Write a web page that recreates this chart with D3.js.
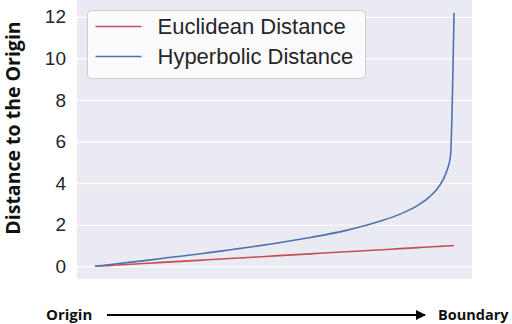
<!DOCTYPE html>
<html>
<head>
<meta charset="utf-8">
<script src="https://cdn.jsdelivr.net/npm/d3@7"></script>
<style>
  body { margin: 0; background: #fff; }
  svg { display: block; }
</style>
</head>
<body>
<svg width="512" height="324"></svg>
<script>
// position from origin (0) to boundary (1)
const radius = [0, 0.05, 0.1, 0.15, 0.2, 0.25, 0.3, 0.35, 0.4, 0.45, 0.5, 0.55, 0.6, 0.65,
    0.7, 0.75, 0.8, 0.85, 0.9, 0.93, 0.95, 0.97, 0.98, 0.99, 0.99999];
const euclidean = [0, 0.05, 0.1, 0.15, 0.2, 0.25, 0.3, 0.35, 0.4, 0.45, 0.5, 0.55, 0.6, 0.65,
    0.7, 0.75, 0.8, 0.85, 0.9, 0.93, 0.95, 0.97, 0.98, 0.99, 1.0];
const hyperbolic = [0, 0.10, 0.20, 0.30, 0.41, 0.51, 0.62, 0.73, 0.85, 0.97, 1.10, 1.24, 1.39, 1.55,
    1.73, 1.95, 2.20, 2.51, 2.94, 3.32, 3.66, 4.18, 4.60, 5.29, 12.2];
const yTicks = [0, 2, 4, 6, 8, 10, 12];
const seriesNames = ["Euclidean Distance", "Hyperbolic Distance"];
const seriesColors = ["#c44e52", "#4c72b0"];

const svg = d3.select("svg");
const margin = {top: 0, right: 40, bottom: 45, left: 77};
const width = 512, height = 324;
const innerWidth = width - margin.left - margin.right;
const innerHeight = height - margin.top - margin.bottom;

const xPad = 0.05;
const scaleX = d3.scaleLinear()
    .domain([-xPad, 1 + xPad])
    .range([0, innerWidth]);

const yMax = d3.max(hyperbolic);
const scaleY = d3.scaleLinear()
    .domain([-yMax * 0.05, yMax * 1.05])
    .range([innerHeight, 0]);

const g = svg.append("g")
    .attr("transform", `translate(${margin.left}, ${margin.top})`);

g.append("rect")
    .attr("width", innerWidth)
    .attr("height", innerHeight)
    .attr("fill", "#eaeaf2");

// grid + y axis
const yAxis = g.append("g")
    .call(d3.axisLeft(scaleY).tickValues(yTicks).tickSize(-innerWidth).tickPadding(11));
yAxis.select(".domain").remove();
yAxis.selectAll("line").attr("stroke", "#fff").attr("stroke-width", 1.2);
yAxis.selectAll("text")
    .attr("fill", "#262626")
    .style("font-family", "Liberation Sans, Arial, sans-serif")
    .style("font-size", "19px");

const series = [euclidean, hyperbolic];
series.forEach((vals, i) => {
    const line = d3.line()
        .x((d, j) => scaleX(radius[j]))
        .y(d => scaleY(d))
        .curve(d3.curveMonotoneX);
    g.append("path")
        .datum(vals)
        .attr("fill", "none")
        .attr("stroke", seriesColors[i])
        .attr("stroke-width", 1.6)
        .attr("d", line);
});

// legend
const legend = g.append("g").attr("transform", "translate(10.5, 10.5)");
legend.append("rect")
    .attr("width", 278)
    .attr("height", 68)
    .attr("rx", 4)
    .attr("fill", "#ffffff")
    .attr("fill-opacity", 0.8)
    .attr("stroke", "#cccccc")
    .attr("stroke-width", 1);
seriesNames.forEach((name, i) => {
    const yy = 16 + i * 30;
    legend.append("line")
        .attr("x1", 8).attr("x2", 54)
        .attr("y1", yy).attr("y2", yy)
        .attr("stroke", seriesColors[i])
        .attr("stroke-width", 1.6);
    legend.append("text")
        .attr("x", 70)
        .attr("y", yy)
        .attr("dy", "0.35em")
        .attr("fill", "#262626")
        .style("font-family", "Liberation Sans, Arial, sans-serif")
        .style("font-size", "22px")
        .text(name);
});

// y label
svg.append("text")
    .attr("transform", `translate(20, ${margin.top + 128}) rotate(-90)`)
    .attr("text-anchor", "middle")
    .attr("fill", "#111")
    .style("font-family", "Open Sans, sans-serif")
    .style("font-weight", "bold")
    .style("font-size", "19.5px")
    .text("Distance to the Origin");

// origin -> boundary arrow
const arrowY = 315;
svg.append("defs").append("marker")
    .attr("id", "arrow")
    .attr("viewBox", "0 0 10 10")
    .attr("refX", 9).attr("refY", 5)
    .attr("markerWidth", 5).attr("markerHeight", 5)
    .attr("orient", "auto")
    .append("path")
    .attr("d", "M0,0 L10,5 L0,10 Z")
    .attr("fill", "#000");
svg.append("line")
    .attr("x1", 107).attr("x2", 425)
    .attr("y1", arrowY).attr("y2", arrowY)
    .attr("stroke", "#000")
    .attr("stroke-width", 2)
    .attr("marker-end", "url(#arrow)");

svg.append("text")
    .attr("x", 46).attr("y", arrowY)
    .attr("dy", "0.35em")
    .attr("fill", "#111")
    .style("font-family", "Open Sans, sans-serif")
    .style("font-weight", "bold")
    .style("font-size", "15px")
    .text("Origin");
svg.append("text")
    .attr("x", 438).attr("y", arrowY)
    .attr("dy", "0.35em")
    .attr("fill", "#111")
    .style("font-family", "Open Sans, sans-serif")
    .style("font-weight", "bold")
    .style("font-size", "14.5px")
    .text("Boundary");
</script>
</body>
</html>
